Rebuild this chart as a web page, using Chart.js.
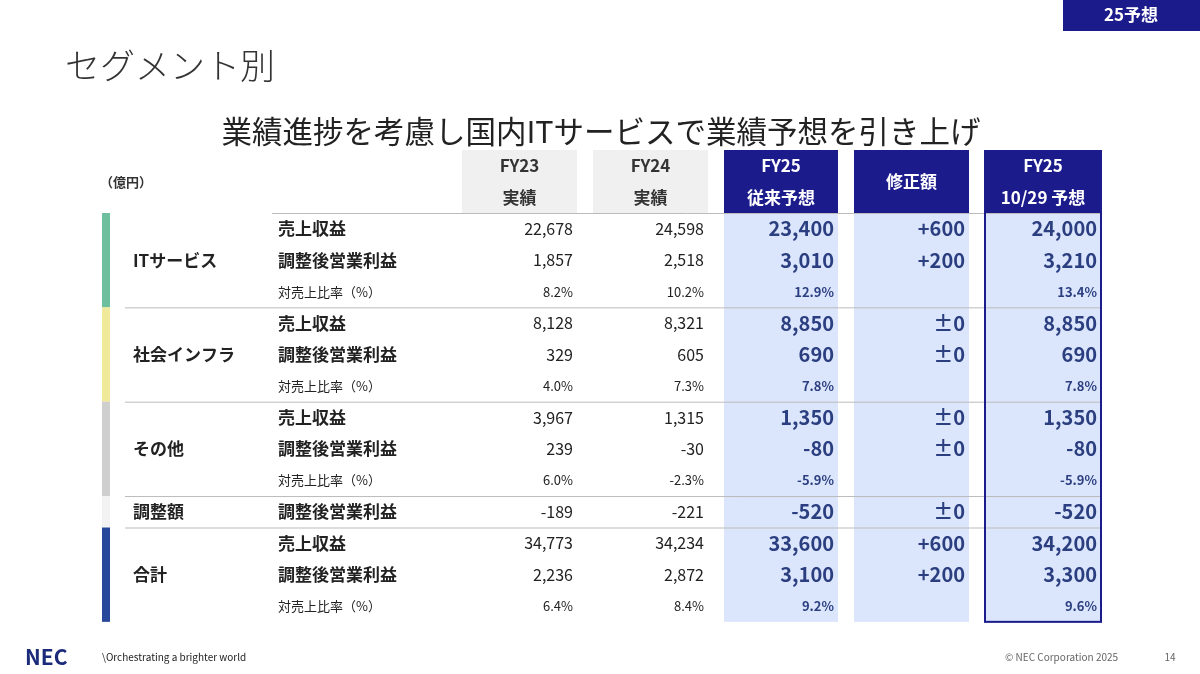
<!DOCTYPE html>
<html><head><meta charset="utf-8">
<script src="https://cdn.jsdelivr.net/npm/chart.js@4/dist/chart.umd.min.js"></script>
<style>html,body{margin:0;padding:0;background:#fff}#c{display:block}</style>
</head><body>
<canvas id="c" width="1200" height="674"></canvas>
<script>
const segments = ['ITサービス', '社会インフラ', 'その他', '調整額', '合計'];
const items = [
  '売上収益', '調整後営業利益', '対売上比率（%）',
  '売上収益', '調整後営業利益', '対売上比率（%）',
  '売上収益', '調整後営業利益', '対売上比率（%）',
  '調整後営業利益',
  '売上収益', '調整後営業利益', '対売上比率（%）'
];
const fy23 = ['22,678', '1,857', '8.2%', '8,128', '329', '4.0%', '3,967', '239', '6.0%', '-189', '34,773', '2,236', '6.4%'];
const fy24 = ['24,598', '2,518', '10.2%', '8,321', '605', '7.3%', '1,315', '-30', '-2.3%', '-221', '34,234', '2,872', '8.4%'];
const fy25Prev = ['23,400', '3,010', '12.9%', '8,850', '690', '7.8%', '1,350', '-80', '-5.9%', '-520', '33,600', '3,100', '9.2%'];
const revision = ['+600', '+200', '', '±0', '±0', '', '±0', '±0', '', '±0', '+600', '+200', ''];
const fy25New = ['24,000', '3,210', '13.4%', '8,850', '690', '7.8%', '1,350', '-80', '-5.9%', '-520', '34,200', '3,300', '9.6%'];
const headers = [['FY23', '実績'], ['FY24', '実績'], ['FY25', '従来予想'], ['修正額'], ['FY25', '10/29 予想']];

// layout (pixel units on the hidden linear scales)
const colX = [[462, 577], [593, 708], [724, 838], [854, 969], [985, 1101]];
const rowTop = 213, rowH = 31.45;
const segRows = [[0, 3], [3, 6], [6, 9], [9, 10], [10, 13]];
const segColors = ['#6dbf9e', '#f1e99a', '#cfcfcf', '#f3f3f3', '#27479a'];
const NAVY = '#1b1b8c', VAL = '#2b3f80', LIGHT = '#dbe5fb';
const F = '"Noto Sans CJK JP", "Noto Sans", sans-serif';

const tablePlugin = {
  id: 'table',
  afterDraw(chart) {
    const ctx = chart.ctx, sx = chart.scales.x, sy = chart.scales.y;
    const X = v => sx.getPixelForValue(v), Y = v => sy.getPixelForValue(v);
    const rowY = i => Y(rowTop + rowH * i);
    const bottom = rowTop + rowH * items.length;
    ctx.save();
    const text = (t, x, y, size, color, weight, align) => {
      ctx.font = (weight || 'normal') + ' ' + size + 'px ' + F;
      ctx.fillStyle = color; ctx.textAlign = align || 'left'; ctx.textBaseline = 'middle';
      ctx.fillText(t, X(x), Y(y));
    };
    // top badge
    ctx.fillStyle = NAVY; ctx.fillRect(X(1063), Y(0), X(1200) - X(1063), Y(31) - Y(0));
    text('25予想', 1131, 15, 17, '#fff', 'bold', 'center');
    text('セグメント別', 65, 66, 35, '#333', '300');
    text('業績進捗を考慮し国内ITサービスで業績予想を引き上げ', 601, 131, 30.5, '#222', 'normal', 'center');
    text('（億円）', 100, 182, 13, '#333', 'bold');
    // column backgrounds
    colX.forEach((c, i) => {
      if (i < 2) {
        ctx.fillStyle = '#f0f0f0';
        ctx.fillRect(X(c[0]), Y(150), X(c[1]) - X(c[0]), Y(rowTop) - Y(150));
      } else {
        ctx.fillStyle = LIGHT;
        ctx.fillRect(X(c[0]), Y(rowTop), X(c[1]) - X(c[0]), Y(bottom) - Y(rowTop));
        ctx.fillStyle = NAVY;
        ctx.fillRect(X(c[0]), Y(150), X(c[1]) - X(c[0]), Y(rowTop) - Y(150));
      }
      const h = headers[i], cx = (c[0] + c[1]) / 2, col = i < 2 ? '#333' : '#fff';
      if (h.length === 2) {
        text(h[0], cx, 166, 17, col, 'bold', 'center');
        text(h[1], cx, 198, 17, col, 'bold', 'center');
      } else text(h[0], cx, 182, 17, col, 'bold', 'center');
    });
    // segment bars, labels, separators
    segRows.forEach((r, i) => {
      ctx.fillStyle = segColors[i];
      ctx.fillRect(X(102), rowY(r[0]), X(110) - X(102), rowY(r[1]) - rowY(r[0]));
      text(segments[i], 133, rowTop + rowH * (r[0] + r[1]) / 2, 17, '#222', 'bold');
      ctx.strokeStyle = '#bbb'; ctx.lineWidth = 1;
      ctx.beginPath();
      ctx.moveTo(X(r[0] === 0 ? 272 : 125), rowY(r[0]) + 0.5);
      ctx.lineTo(X(colX[4][1]), rowY(r[0]) + 0.5);
      ctx.stroke();
    });
    // rows
    const cols = [fy23, fy24, fy25Prev, revision, fy25New];
    items.forEach((it, i) => {
      const cy = rowTop + rowH * (i + 0.5);
      const small = it.indexOf('比率') >= 0;
      text(it, 278, cy, small ? 13 : 17, '#222', small ? 'normal' : 'bold');
      cols.forEach((arr, j) => {
        const big = j >= 2;
        const size = small ? 13 : (big ? 20 : 16);
        text(arr[i], colX[j][1] - 4, cy, size, big ? VAL : '#222', big ? 'bold' : 'normal', 'right');
      });
    });
    // border on new forecast column
    ctx.strokeStyle = NAVY; ctx.lineWidth = 2;
    ctx.strokeRect(X(colX[4][0]), Y(151), X(colX[4][1]) - X(colX[4][0]), Y(bottom) - Y(151));
    // footer
    text('NEC', 25, 657, 21, '#1b2a7a', 'bold');
    text('\\Orchestrating a brighter world', 102, 657, 10, '#222', 'normal');
    text('© NEC Corporation 2025', 1005, 657, 10, '#666', 'normal');
    text('14', 1170, 657, 10, '#666', 'normal', 'center');
    ctx.restore();
  }
};

new Chart(document.getElementById('c'), {
  type: 'scatter',
  data: { datasets: [] },
  options: {
    responsive: false, animation: false,
    layout: { padding: 0 },
    plugins: { legend: { display: false }, tooltip: { enabled: false } },
    scales: {
      x: { type: 'linear', min: 0, max: 1200, display: false },
      y: { type: 'linear', min: 0, max: 674, reverse: true, display: false }
    }
  },
  plugins: [tablePlugin]
});
</script>
</body></html>
